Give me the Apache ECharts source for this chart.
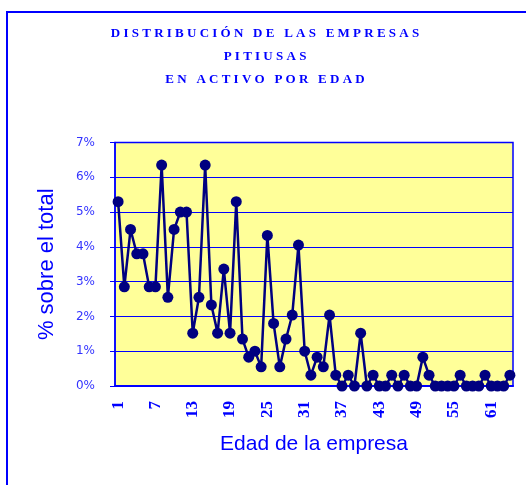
<!DOCTYPE html>
<html>
<head>
<meta charset="utf-8">
<script src="https://cdn.jsdelivr.net/npm/echarts@6/dist/echarts.min.js"></script>
<style>
  html, body { margin: 0; padding: 0; background: #fff; }
  #chart { width: 526px; height: 485px; }
</style>
</head>
<body>
<div id="chart"></div>
<script>
const titleLines = ['DISTRIBUCIÓN DE LAS EMPRESAS', 'PITIUSAS', 'EN ACTIVO POR EDAD']
const yAxisTitle = '% sobre el total'
const xAxisTitle = 'Edad de la empresa'

// edad 1..64
const ages = Array.from({ length: 64 }, (_, i) => String(i + 1))
const shares = [
  5.3, 2.85, 4.5, 3.8, 3.8, 2.85, 2.85, 6.35, 2.55, 4.5,
  5.0, 5.0, 1.52, 2.55, 6.35, 2.33, 1.52, 3.36, 1.52, 5.3,
  1.35, 0.83, 1.0, 0.55, 4.33, 1.8, 0.55, 1.35, 2.04, 4.05,
  1.0, 0.31, 0.83, 0.55, 2.04, 0.31, 0, 0.31, 0, 1.52,
  0, 0.31, 0, 0, 0.31, 0, 0.31, 0, 0, 0.83,
  0.31, 0, 0, 0, 0, 0.31, 0, 0, 0, 0.31,
  0, 0, 0, 0.31
]

const blue = '#0000ff'
const navy = '#000080'

// letter-spaced title like the original
const spaced = s => s.split(' ').map(w => w.split('').join(' ')).join('   ')

const chart = echarts.init(document.getElementById('chart'))

chart.setOption({
  animation: false,
  title: {
    text: titleLines.map(spaced).join('\n'),
    left: 265,
    top: 22,
    textAlign: 'center',
    padding: 0,
    textStyle: {
      fontFamily: 'Liberation Serif',
      fontWeight: 'bold',
      fontSize: 13,
      lineHeight: 23,
      color: blue
    }
  },
  graphic: [{
    type: 'rect',
    shape: { x: 7, y: 12, width: 560, height: 520 },
    style: { fill: 'none', stroke: blue, lineWidth: 2 },
    silent: true
  }],
  grid: {
    left: 115, right: 13, top: 142.5, bottom: 99,
    show: true,
    backgroundColor: '#ffff99',
    borderColor: blue,
    borderWidth: 1.5
  },
  xAxis: {
    type: 'category',
    data: ages,
    boundaryGap: true,
    name: xAxisTitle,
    nameLocation: 'middle',
    nameGap: 48,
    nameTextStyle: { fontFamily: 'Liberation Sans', fontSize: 21, color: blue },
    axisLine: { lineStyle: { color: blue, width: 2 } },
    axisTick: { interval: 0, length: 6, lineStyle: { color: blue } },
    axisLabel: {
      interval: 5,
      rotate: 90,
      margin: 15,
      fontFamily: 'Liberation Sans Narrow',
      fontWeight: 'bold',
      fontSize: 17,
      color: blue
    },
    splitLine: { show: false }
  },
  yAxis: {
    type: 'value',
    min: 0,
    max: 7,
    interval: 1,
    name: yAxisTitle,
    nameLocation: 'middle',
    nameRotate: 90,
    nameGap: 57,
    nameTextStyle: { fontFamily: 'Liberation Sans', fontSize: 22, color: blue },
    axisLine: { show: true, lineStyle: { color: blue, width: 1.5 } },
    axisTick: { show: true, length: 5, lineStyle: { color: blue } },
    axisLabel: {
      formatter: '{value}%',
      margin: 20,
      fontFamily: 'DejaVu Sans',
      fontSize: 12,
      color: '#3333ff'
    },
    splitLine: { lineStyle: { color: blue, width: 1 } }
  },
  series: [{
    type: 'line',
    data: shares,
    symbol: 'circle',
    symbolSize: 11,
    showAllSymbol: true,
    lineStyle: { color: navy, width: 2.5 },
    itemStyle: { color: navy }
  }]
})
</script>
</body>
</html>
